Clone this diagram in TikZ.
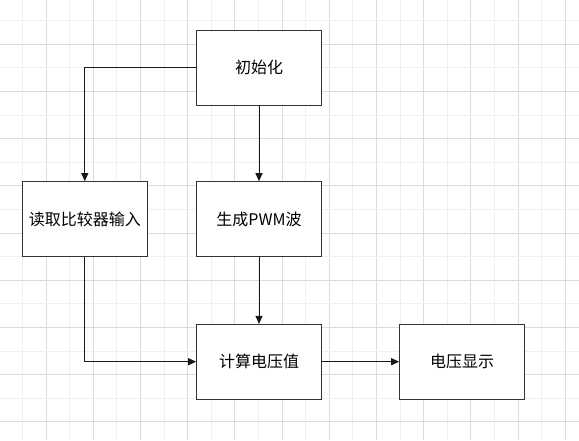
\documentclass[tikz,border=0pt]{standalone}
\usepackage{fontspec}
\newfontfamily\cjk{Noto Sans CJK SC}
\usetikzlibrary{arrows.meta}
\definecolor{gridminor}{HTML}{EFEFEF}
\definecolor{gridmajor}{HTML}{DCDCDC}
\definecolor{boxline}{HTML}{333333}
\begin{document}
\begin{tikzpicture}[x=0.75pt,y=-0.75pt,
  box/.style={draw=boxline, line width=0.75pt, fill=white, minimum width=93.45pt, minimum height=55.95pt, inner sep=0pt, font=\cjk\fontsize{12pt}{14pt}\selectfont},
  arr/.style={draw=black!90, line width=0.75pt, -{Triangle[length=6pt,width=5.25pt]}}]
\useasboundingbox (0,0) rectangle (579,440);
\fill[white] (0,0) rectangle (579,440);
% grid
\foreach \k in {0,...,23} {
  \pgfmathtruncatemacro{\odd}{mod(\k,2)}
  \ifnum\odd=1
    \draw[gridmajor, line width=0.75pt] ({22.5+23.6*\k},0) -- ({22.5+23.6*\k},440);
  \else
    \draw[gridminor, line width=0.75pt] ({22.5+23.6*\k},0) -- ({22.5+23.6*\k},440);
  \fi
}
\foreach \k in {0,...,17} {
  \pgfmathtruncatemacro{\odd}{mod(\k,2)}
  \ifnum\odd=1
    \draw[gridmajor, line width=0.75pt] (0,{20.7+23.6*\k}) -- (579,{20.7+23.6*\k});
  \else
    \draw[gridminor, line width=0.75pt] (0,{20.7+23.6*\k}) -- (579,{20.7+23.6*\k});
  \fi
}
% nodes
\node[box] (init) at (259,67.7) {初始化};
\node[box] (pwm) at (259,219) {生成PWM波};
\node[box] (read) at (84.8,219) {读取比较器输入};
\node[box] (calc) at (259,361.7) {计算电压值};
\node[box] (disp) at (462,361.7) {电压显示};
% connectors
\draw[arr] (init.west) -| (read.north);
\draw[arr] (init) -- (pwm);
\draw[arr] (pwm) -- (calc);
\draw[arr] (read.south) |- (calc.west);
\draw[arr] (calc) -- (disp);
\end{tikzpicture}
\end{document}
